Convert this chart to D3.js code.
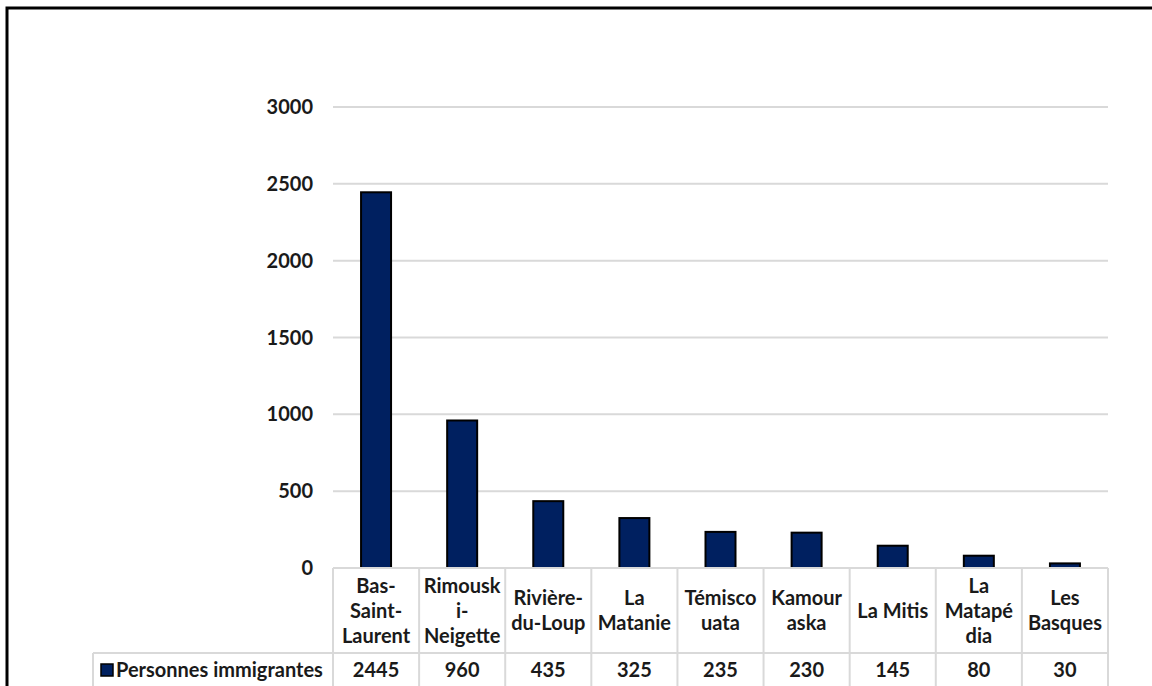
<!DOCTYPE html>
<html>
<head>
<meta charset="utf-8">
<script src="https://cdn.jsdelivr.net/npm/d3@7"></script>
<style>
  body { margin: 0; background: #fff; }
  svg text { font-family: Lato, "Liberation Sans", sans-serif; font-weight: bold; fill: #1a1a1a; }
</style>
</head>
<body>
<div id="chart"></div>
<script>
// Data
const categories = ['Bas-Saint-Laurent', 'Rimouski-Neigette', 'Rivière-du-Loup', 'La Matanie',
  'Témiscouata', 'Kamouraska', 'La Mitis', 'La Matapédia', 'Les Basques'];
// category labels as they wrap in the table cells
const categoryLines = [
  ['Bas-', 'Saint-', 'Laurent'], ['Rimousk', 'i-', 'Neigette'], ['Rivière-', 'du-Loup'],
  ['La', 'Matanie'], ['Témisco', 'uata'], ['Kamour', 'aska'], ['La Mitis'],
  ['La', 'Matapé', 'dia'], ['Les', 'Basques']
];
const values = [2445, 960, 435, 325, 235, 230, 145, 80, 30];
const seriesName = 'Personnes immigrantes';
const yTicks = [0, 500, 1000, 1500, 2000, 2500, 3000];

const W = 1152, H = 686;
const plot = { left: 333, right: 1108, top: 107, bottom: 568 };
const tableRow1 = 653;   // bottom of category row
const legendLeft = 93;
const fs = 20;

const svg = d3.select('#chart').append('svg')
  .attr('width', W).attr('height', H);

// Outer chart border (clipped on right/bottom like the reference)
svg.append('rect')
  .attr('x', 7).attr('y', 8)
  .attr('width', W + 10).attr('height', H + 10)
  .attr('fill', 'none')
  .attr('stroke', '#000')
  .attr('stroke-width', 3);

const x = d3.scaleBand()
  .domain(categories)
  .range([plot.left, plot.right])
  .paddingInner(0)
  .paddingOuter(0);

const y = d3.scaleLinear()
  .domain([0, 3000])
  .range([plot.bottom, plot.top]);

// Gridlines
svg.append('g').selectAll('line')
  .data(yTicks)
  .enter().append('line')
  .attr('x1', plot.left).attr('x2', plot.right)
  .attr('y1', d => y(d)).attr('y2', d => y(d))
  .attr('stroke', '#d9d9d9')
  .attr('stroke-width', 2);

// Y axis labels
svg.append('g').selectAll('text')
  .data(yTicks)
  .enter().append('text')
  .attr('x', 313)
  .attr('y', d => y(d))
  .attr('dy', '0.35em')
  .attr('text-anchor', 'end')
  .attr('font-size', fs)
  .text(d => d);

// Bars
const barW = 30;
svg.append('g').selectAll('rect')
  .data(values)
  .enter().append('rect')
  .attr('x', (d, i) => x(categories[i]) + x.bandwidth() / 2 - barW / 2)
  .attr('y', d => y(d))
  .attr('width', barW)
  .attr('height', d => y(0) - y(d))
  .attr('fill', '#002060')
  .attr('stroke', '#000')
  .attr('stroke-width', 2);

// Data table grid
const grid = svg.append('g')
  .attr('stroke', '#d9d9d9')
  .attr('stroke-width', 2);

grid.append('line')
  .attr('x1', plot.left).attr('x2', plot.right)
  .attr('y1', plot.bottom).attr('y2', plot.bottom);
grid.append('line')
  .attr('x1', legendLeft).attr('x2', plot.right)
  .attr('y1', tableRow1).attr('y2', tableRow1);
grid.append('line')
  .attr('x1', legendLeft).attr('x2', legendLeft)
  .attr('y1', tableRow1).attr('y2', H);

const bounds = categories.map(c => x(c)).concat([plot.right]);
grid.selectAll('.v')
  .data(bounds)
  .enter().append('line')
  .attr('x1', d => d).attr('x2', d => d)
  .attr('y1', plot.bottom).attr('y2', H);

// Category labels
const lineH = 25;
const rowMid = (plot.bottom + tableRow1) / 2;
categoryLines.forEach((lines, i) => {
  const cx = x(categories[i]) + x.bandwidth() / 2;
  const t = svg.append('text')
    .attr('text-anchor', 'middle')
    .attr('font-size', fs);
  lines.forEach((ln, j) => {
    t.append('tspan')
      .attr('x', cx)
      .attr('y', rowMid + (j - (lines.length - 1) / 2) * lineH)
      .attr('dy', '0.35em')
      .text(ln);
  });
});

// Values row
const valY = 670;
svg.append('g').selectAll('text')
  .data(values)
  .enter().append('text')
  .attr('x', (d, i) => x(categories[i]) + x.bandwidth() / 2)
  .attr('y', valY)
  .attr('dy', '0.35em')
  .attr('text-anchor', 'middle')
  .attr('font-size', fs)
  .text(d => d);

// Legend key + series name
svg.append('rect')
  .attr('x', 101).attr('y', valY - 6)
  .attr('width', 12).attr('height', 12)
  .attr('fill', '#002060')
  .attr('stroke', '#000')
  .attr('stroke-width', 1.5);

svg.append('text')
  .attr('x', 116)
  .attr('y', valY)
  .attr('dy', '0.35em')
  .attr('font-size', fs)
  .text(seriesName);
</script>
</body>
</html>
